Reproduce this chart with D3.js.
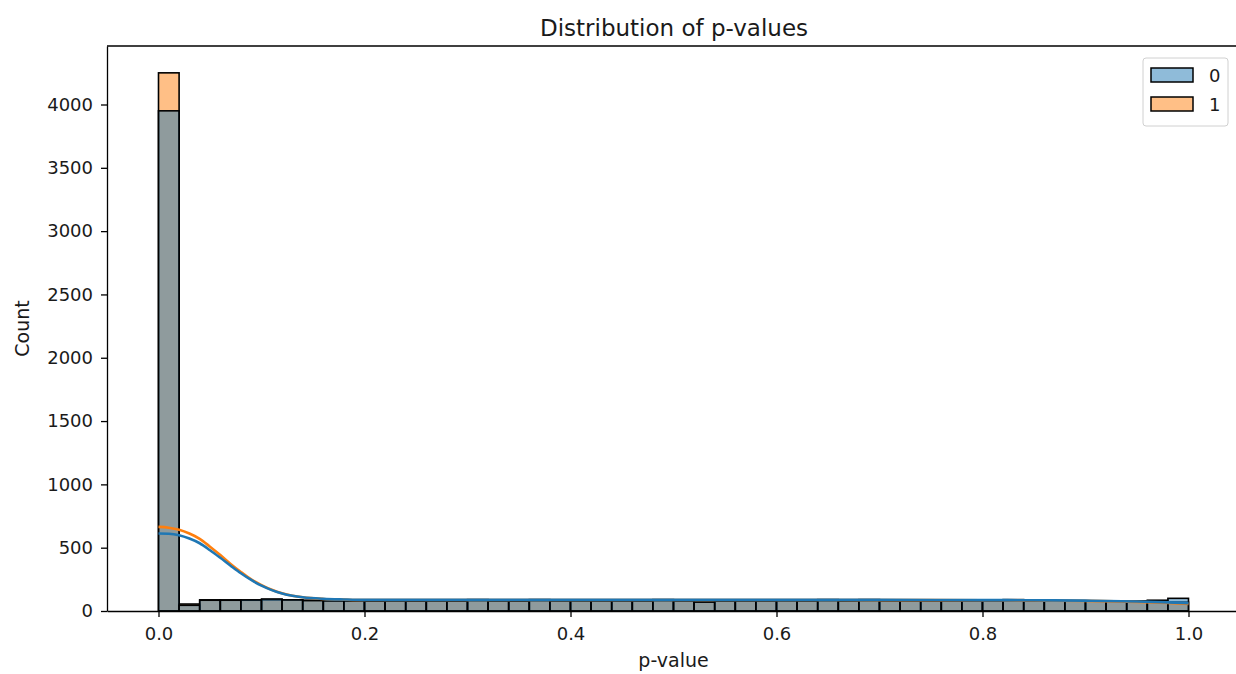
<!DOCTYPE html>
<html>
<head>
<meta charset="utf-8">
<script src="https://cdn.jsdelivr.net/npm/d3@7"></script>
<style>
  body { margin: 0; background: #fff; }
  svg text { font-family: "DejaVu Sans", sans-serif; fill: #1a1a1a; }
</style>
</head>
<body>
<div id="chart"></div>
<script>
// 50 bins of width 0.02 on [0, 1]
const binEdges = d3.range(0, 51).map(i => +(i * 0.02).toFixed(2));
const counts0 = [3950, 45, 85, 85, 88, 95, 88, 82, 80, 80, 78, 80, 78, 80, 78, 90, 80, 78, 90, 80,
  80, 80, 80, 80, 90, 80, 70, 80, 80, 80, 82, 80, 90, 80, 90, 80, 80, 80, 80, 80,
  80, 90, 80, 80, 80, 80, 80, 80, 85, 100];
const counts1 = [4250, 55, 88, 88, 85, 88, 88, 85, 82, 82, 80, 78, 80, 78, 80, 80, 78, 80, 80, 80,
  82, 80, 80, 78, 80, 80, 80, 78, 80, 80, 80, 80, 80, 80, 80, 78, 80, 80, 80, 80,
  80, 80, 78, 80, 80, 80, 80, 80, 75, 70];

// kde curves (scaled to counts)
const kdeX = [0, 0.01, 0.02, 0.03, 0.04, 0.05, 0.06, 0.07, 0.08, 0.09, 0.10, 0.11, 0.12, 0.13, 0.14,
  0.16, 0.18, 0.2, 0.3, 0.4, 0.5, 0.6, 0.7, 0.8, 0.85, 0.9, 0.95, 0.98, 1.0];
const kde0 = [612, 610, 598, 572, 535, 480, 420, 358, 298, 245, 200, 165, 138, 120, 108,
  96, 91, 88, 88, 88, 88, 88, 88, 86, 85, 82, 75, 68, 62];
const kde1 = [664, 658, 642, 612, 570, 508, 442, 372, 308, 250, 205, 168, 140, 121, 108,
  95, 90, 87, 87, 87, 87, 87, 86, 85, 83, 80, 72, 63, 55];

const hueLabels = ['0', '1'];
const hueColors = ['#1f77b4', '#ff7f0e'];
const yTicks = [0, 500, 1000, 1500, 2000, 2500, 3000, 3500, 4000];
const xTicks = [0, 0.2, 0.4, 0.6, 0.8, 1.0];

const W = 1236, H = 674;
const margin = { top: 46, left: 107, bottom: 63 };
const plotRight = 1240;
const plotBottom = H - margin.bottom;

const x = d3.scaleLinear().domain([-0.05, 1.05]).range([margin.left, plotRight]);
const y = d3.scaleLinear().domain([0, 4462]).range([plotBottom, margin.top]);

const svg = d3.select('#chart').append('svg')
  .attr('width', W).attr('height', H);

// bars: orange (1) first, blue (0) on top
const series = [
  { key: 1, counts: counts1 },
  { key: 0, counts: counts0 }
];
series.forEach(function (s) {
  svg.append('g')
    .selectAll('rect')
    .data(s.counts)
    .enter()
    .append('rect')
    .attr('x', (d, i) => x(binEdges[i]))
    .attr('width', (d, i) => x(binEdges[i + 1]) - x(binEdges[i]))
    .attr('y', d => y(d))
    .attr('height', d => y(0) - y(d))
    .attr('fill', hueColors[s.key])
    .attr('fill-opacity', 0.5)
    .attr('stroke', '#000')
    .attr('stroke-width', 1.6);
});

// kde lines
const line = d3.line()
  .x(d => x(d[0]))
  .y(d => y(d[1]))
  .curve(d3.curveMonotoneX);
[[kde1, 1], [kde0, 0]].forEach(function (k) {
  svg.append('path')
    .datum(kdeX.map((v, i) => [v, k[0][i]]))
    .attr('fill', 'none')
    .attr('stroke', hueColors[k[1]])
    .attr('stroke-width', 2.6)
    .attr('d', line);
});

// axes
const xAxis = svg.append('g')
  .attr('transform', `translate(0,${plotBottom})`)
  .call(d3.axisBottom(x).tickValues(xTicks).tickFormat(d3.format('.1f')).tickSize(6).tickPadding(10).tickSizeOuter(0));
const yAxis = svg.append('g')
  .attr('transform', `translate(${margin.left},0)`)
  .call(d3.axisLeft(y).tickValues(yTicks).tickFormat(d3.format('d')).tickSize(6).tickPadding(8).tickSizeOuter(0));
[xAxis, yAxis].forEach(function (a) {
  a.select('.domain').attr('stroke', '#000').attr('stroke-width', 1.3);
  a.selectAll('.tick line').attr('stroke', '#000').attr('stroke-width', 1.3);
  a.selectAll('.tick text').attr('font-size', 18).attr('font-family', '"DejaVu Sans", sans-serif').attr('fill', '#1a1a1a');
});
// top spine
svg.append('line')
  .attr('x1', margin.left).attr('x2', plotRight)
  .attr('y1', margin.top).attr('y2', margin.top)
  .attr('stroke', '#000').attr('stroke-width', 1.3);

// labels
svg.append('text')
  .attr('x', 674).attr('y', 36)
  .attr('text-anchor', 'middle').attr('font-size', 23)
  .text('Distribution of p-values');
svg.append('text')
  .attr('x', x(0.5)).attr('y', 667)
  .attr('text-anchor', 'middle').attr('font-size', 19)
  .text('p-value');
svg.append('text')
  .attr('transform', `translate(29,${(margin.top + plotBottom) / 2}) rotate(-90)`)
  .attr('text-anchor', 'middle').attr('font-size', 19)
  .text('Count');

// legend
const lg = svg.append('g').attr('transform', 'translate(1143,58)');
lg.append('rect')
  .attr('width', 85).attr('height', 68).attr('rx', 3)
  .attr('fill', '#fff').attr('fill-opacity', 0.8)
  .attr('stroke', '#d0d0d0');
hueLabels.forEach(function (lab, i) {
  lg.append('rect')
    .attr('x', 8).attr('y', 10 + i * 29)
    .attr('width', 42).attr('height', 14)
    .attr('fill', hueColors[i]).attr('fill-opacity', 0.5)
    .attr('stroke', '#000').attr('stroke-width', 1.5);
  lg.append('text')
    .attr('x', 66).attr('y', 24 + i * 29)
    .attr('font-size', 18)
    .text(lab);
});
</script>
</body>
</html>
